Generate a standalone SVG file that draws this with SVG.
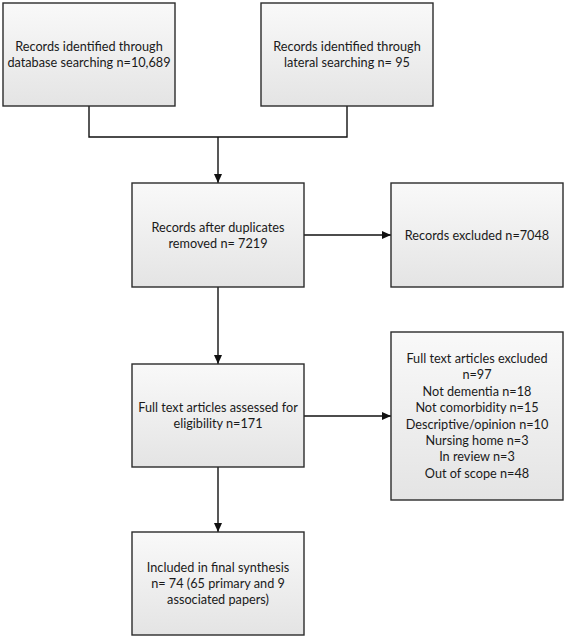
<svg xmlns="http://www.w3.org/2000/svg" width="567" height="640" viewBox="0 0 567 640">
<defs>
<linearGradient id="g" x1="0" y1="0" x2="0" y2="1">
<stop offset="0" stop-color="#f9f9f9"/>
<stop offset="1" stop-color="#e4e4e4"/>
</linearGradient>
<marker id="arr" markerWidth="10" markerHeight="10" refX="9" refY="5" orient="auto" markerUnits="userSpaceOnUse">
<path d="M0,1 L9,5 L0,9 Z" fill="#111"/>
</marker>
</defs>
<style>
.box{fill:url(#g);stroke:#2b2b2b;stroke-width:1.4}
.t{font-family:Lato,"Liberation Sans",sans-serif;font-size:12.7px;fill:#1a1a1a;text-anchor:middle;dominant-baseline:central}
.c{fill:none;stroke:#111;stroke-width:1.4}
</style>
<rect width="567" height="640" fill="#fff"/>
<g id="connectors">
<polyline class="c" points="89,106 89,137 347,137 347,106"/>
<line class="c" x1="218" y1="137" x2="218" y2="183" marker-end="url(#arr)"/>
<line class="c" x1="304" y1="235" x2="391" y2="235" marker-end="url(#arr)"/>
<line class="c" x1="218" y1="287" x2="218" y2="364" marker-end="url(#arr)"/>
<line class="c" x1="304" y1="416" x2="391" y2="416" marker-end="url(#arr)"/>
<line class="c" x1="218" y1="467" x2="218" y2="532" marker-end="url(#arr)"/>
</g>
<g id="n1">
<rect class="box" x="3" y="3" width="172" height="103"/>
<text class="t" x="89" y="46">Records identified through</text>
<text class="t" x="89" y="62">database searching n=10,689</text>
</g>
<g id="n2">
<rect class="box" x="261" y="3" width="172" height="103"/>
<text class="t" x="347" y="46">Records identified through</text>
<text class="t" x="347" y="62">lateral searching n= 95</text>
</g>
<g id="n3">
<rect class="box" x="132" y="183" width="172" height="104"/>
<text class="t" x="218" y="227">Records after duplicates</text>
<text class="t" x="218" y="243">removed n= 7219</text>
</g>
<g id="n4">
<rect class="box" x="391" y="183" width="172" height="104"/>
<text class="t" x="477" y="235">Records excluded n=7048</text>
</g>
<g id="n5">
<rect class="box" x="132" y="364" width="172" height="103"/>
<text class="t" x="218" y="407">Full text articles assessed for</text>
<text class="t" x="218" y="423">eligibility n=171</text>
</g>
<g id="n6">
<rect class="box" x="391" y="332" width="172" height="168"/>
<text class="t" x="477" y="358">Full text articles excluded</text>
<text class="t" x="477" y="374">n=97</text>
<text class="t" x="477" y="391">Not dementia n=18</text>
<text class="t" x="477" y="407">Not comorbidity n=15</text>
<text class="t" x="477" y="424">Descriptive/opinion n=10</text>
<text class="t" x="477" y="440">Nursing home n=3</text>
<text class="t" x="477" y="456">In review n=3</text>
<text class="t" x="477" y="473">Out of scope n=48</text>
</g>
<g id="n7">
<rect class="box" x="132" y="532" width="172" height="103"/>
<text class="t" x="218" y="567">Included in final synthesis</text>
<text class="t" x="218" y="583">n= 74 (65 primary and 9</text>
<text class="t" x="218" y="599">associated papers)</text>
</g>
</svg>
